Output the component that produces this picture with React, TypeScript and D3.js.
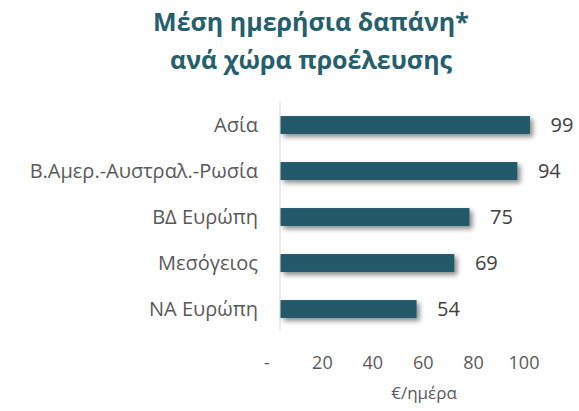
import * as d3 from 'd3'
import { useEffect, useRef } from 'react'

const CATEGORIES = ['Ασία', 'Β.Αμερ.-Αυστραλ.-Ρωσία', 'ΒΔ Ευρώπη', 'Μεσόγειος', 'ΝΑ Ευρώπη']
const VALUES = [99, 94, 75, 69, 54]
const TICKS = [0, 20, 40, 60, 80, 100]
const TITLE = ['Μέση ημερήσια δαπάνη*', 'ανά χώρα προέλευσης']
const X_TITLE = '€/ημέρα'

export default function App() {
  const ref = useRef<HTMLDivElement>(null)

  useEffect(() => {
    const width = 579
    const height = 411
    const left = 280
    const plotRight = 568
    const top = 102
    const bottom = 332
    const font = '"Open Sans", "Noto Sans", sans-serif'

    const data = CATEGORIES.map((c, i) => ({ cat: c, value: VALUES[i] }))

    const x = d3.scaleLinear().domain([0, 100]).range([left, 532])
    const y = d3
      .scaleBand()
      .domain(CATEGORIES)
      .range([top, bottom])
      .paddingInner(0.61)
      .paddingOuter(0.305)

    const svg = d3
      .create('svg')
      .attr('width', width)
      .attr('height', height)
      .attr('viewBox', [0, 0, width, height])
      .attr('style', `position:absolute;left:0;top:0;background:#fff;font-family:${font}`)

    const defs = svg.append('defs')
    const f = defs
      .append('filter')
      .attr('id', 'shadow')
      .attr('x', '-10%')
      .attr('y', '-50%')
      .attr('width', '130%')
      .attr('height', '220%')
    f.append('feDropShadow')
      .attr('dx', 3)
      .attr('dy', 3)
      .attr('stdDeviation', 2.5)
      .attr('flood-color', '#000')
      .attr('flood-opacity', 0.45)

    // title
    svg
      .append('g')
      .attr('fill', '#255E6C')
      .attr('font-weight', 'bold')
      .attr('font-size', 25)
      .attr('text-anchor', 'middle')
      .selectAll()
      .data(TITLE)
      .join('text')
      .attr('x', 311)
      .attr('y', (_, i) => 31 + i * 38)
      .text((d) => d)

    // vertical axis line
    svg
      .append('line')
      .attr('x1', x(0))
      .attr('x2', x(0))
      .attr('y1', top)
      .attr('y2', bottom - 2)
      .attr('stroke', '#d9d9d9')
      .attr('stroke-width', 1)

    // bars
    svg
      .append('g')
      .attr('fill', '#235A69')
      .attr('filter', 'url(#shadow)')
      .selectAll()
      .data(data)
      .join('rect')
      .attr('x', x(0) + 0.5)
      .attr('y', (d) => y(d.cat) as number)
      .attr('width', (d) => x(d.value) - x(0))
      .attr('height', y.bandwidth())

    // value labels
    svg
      .append('g')
      .attr('fill', '#404040')
      .attr('font-size', 20)
      .selectAll()
      .data(data)
      .join('text')
      .attr('x', (d) => x(d.value) + 21)
      .attr('y', (d) => (y(d.cat) as number) + y.bandwidth() / 2)
      .attr('dy', '0.36em')
      .text((d) => d.value)

    // category labels
    svg
      .append('g')
      .attr('fill', '#595959')
      .attr('font-size', 20)
      .attr('text-anchor', 'end')
      .selectAll()
      .data(data)
      .join('text')
      .attr('x', 258)
      .attr('y', (d) => (y(d.cat) as number) + y.bandwidth() / 2)
      .attr('dy', '0.35em')
      .text((d) => d.cat)

    // x tick labels
    svg
      .append('g')
      .attr('fill', '#595959')
      .attr('font-size', 18)
      .attr('text-anchor', 'middle')
      .selectAll()
      .data(TICKS)
      .join('text')
      .attr('x', (d) => x(d) - (d === 0 ? 13 : 8))
      .attr('y', 363)
      .attr('dy', '0.35em')
      .text((d) => (d === 0 ? '-' : String(d)))

    // x axis title
    svg
      .append('text')
      .attr('x', (left + plotRight) / 2)
      .attr('y', 393)
      .attr('dy', '0.35em')
      .attr('text-anchor', 'middle')
      .attr('fill', '#595959')
      .attr('font-size', 17)
      .text(X_TITLE)

    const node = svg.node()
    if (ref.current && node) {
      ref.current.innerHTML = ''
      ref.current.appendChild(node)
    }
  }, [])

  return <div ref={ref} />
}
